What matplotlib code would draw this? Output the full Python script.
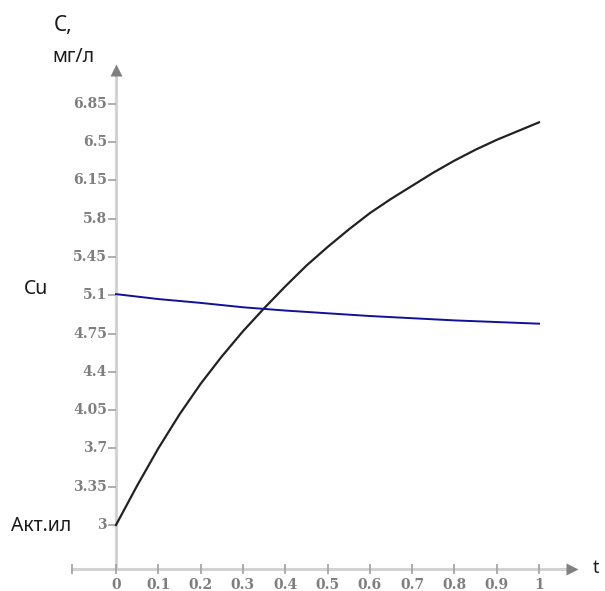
import matplotlib
matplotlib.use("Agg")
import matplotlib.pyplot as plt

# data
t_act = [0.0, 0.05, 0.1, 0.15, 0.2, 0.25, 0.3, 0.35, 0.4, 0.45, 0.5,
         0.55, 0.6, 0.65, 0.7, 0.75, 0.8, 0.85, 0.9, 0.95, 1.0]
c_act = [3.0, 3.36, 3.70, 4.01, 4.29, 4.54, 4.77, 4.98, 5.18, 5.37, 5.54,
         5.70, 5.85, 5.98, 6.10, 6.22, 6.33, 6.43, 6.52, 6.60, 6.68]
t_cu = [0.0, 0.1, 0.2, 0.3, 0.4, 0.5, 0.6, 0.7, 0.8, 0.9, 1.0]
c_cu = [5.11, 5.065, 5.03, 4.99, 4.96, 4.935, 4.91, 4.89, 4.87, 4.855, 4.84]
x_ticks = [0, 0.1, 0.2, 0.3, 0.4, 0.5, 0.6, 0.7, 0.8, 0.9, 1]
x_labels = ["0", "0.1", "0.2", "0.3", "0.4", "0.5", "0.6", "0.7", "0.8", "0.9", "1"]
y_ticks = [3, 3.35, 3.7, 4.05, 4.4, 4.75, 5.1, 5.45, 5.8, 6.15, 6.5, 6.85]
y_labels = ["3", "3.35", "3.7", "4.05", "4.4", "4.75", "5.1", "5.45", "5.8", "6.15", "6.5", "6.85"]

W, H = 605, 591
fig = plt.figure(figsize=(W / 100, H / 100), dpi=100)
ax = fig.add_axes([0, 0, 1, 1])
ax.set_axis_off()
ax.set_xlim(-0.2742, 1.1560)
ax.set_ylim(2.397, 7.798)

axis_grey = "#d2d2d2"
head_grey = "#808080"
lab_grey = "#7e7e7e"
x_axis_v = 2.600
x_left, x_tip = -0.104, 1.094
y_top = 7.22

# axes lines
ax.plot([0, 0], [x_axis_v, y_top - 0.08], color=axis_grey, lw=2.2, zorder=1)
ax.plot([x_left, x_tip - 0.02], [x_axis_v, x_axis_v], color=axis_grey, lw=2.2, zorder=1)
ax.plot([0], [y_top - 0.06], marker="^", ms=8, color=head_grey, mec="none", zorder=2)
ax.plot([x_tip - 0.016], [x_axis_v], marker=">", ms=8, color=head_grey, mec="none", zorder=2)

# ticks
ax.plot([x_left] + x_ticks, [x_axis_v] * (len(x_ticks) + 1), ls="none",
        marker="|", ms=7, mew=1.2, color="#a0a0a0", zorder=2)
ax.hlines(y_ticks, -0.019, 0, color="#a0a0a0", lw=1.2, zorder=2)

lab_font = dict(family="DejaVu Serif", fontsize=10, fontweight="bold", color=lab_grey)
for xv, lab in zip(x_ticks, x_labels):
    ax.text(xv, 2.455, lab, ha="center", va="center", **lab_font)
for yv, lab in zip(y_ticks, y_labels):
    ax.text(-0.021, yv, lab, ha="right", va="center", **lab_font)

# curves
ax.plot(t_act, c_act, color="#222222", lw=1.6, zorder=3)
ax.plot(t_cu, c_cu, color="#10109a", lw=1.4, zorder=3)

txt = dict(family="Noto Sans", color="#1a1a1a")


def ptext(x, y, s, size, **kw):
    fig.text(x / W, 1 - y / H, s, fontsize=size, **txt, **kw)


ptext(54, 26, "C,", 15, ha="left", va="center")
ptext(52, 57, "мг/л", 14, ha="left", va="center")
ptext(24, 289, "Cu", 14, ha="left", va="center")
ptext(11, 526, "Акт.ил", 14, ha="left", va="center")
ptext(593, 568, "t", 13, ha="left", va="center")

fig.savefig("out.png", dpi=100)
